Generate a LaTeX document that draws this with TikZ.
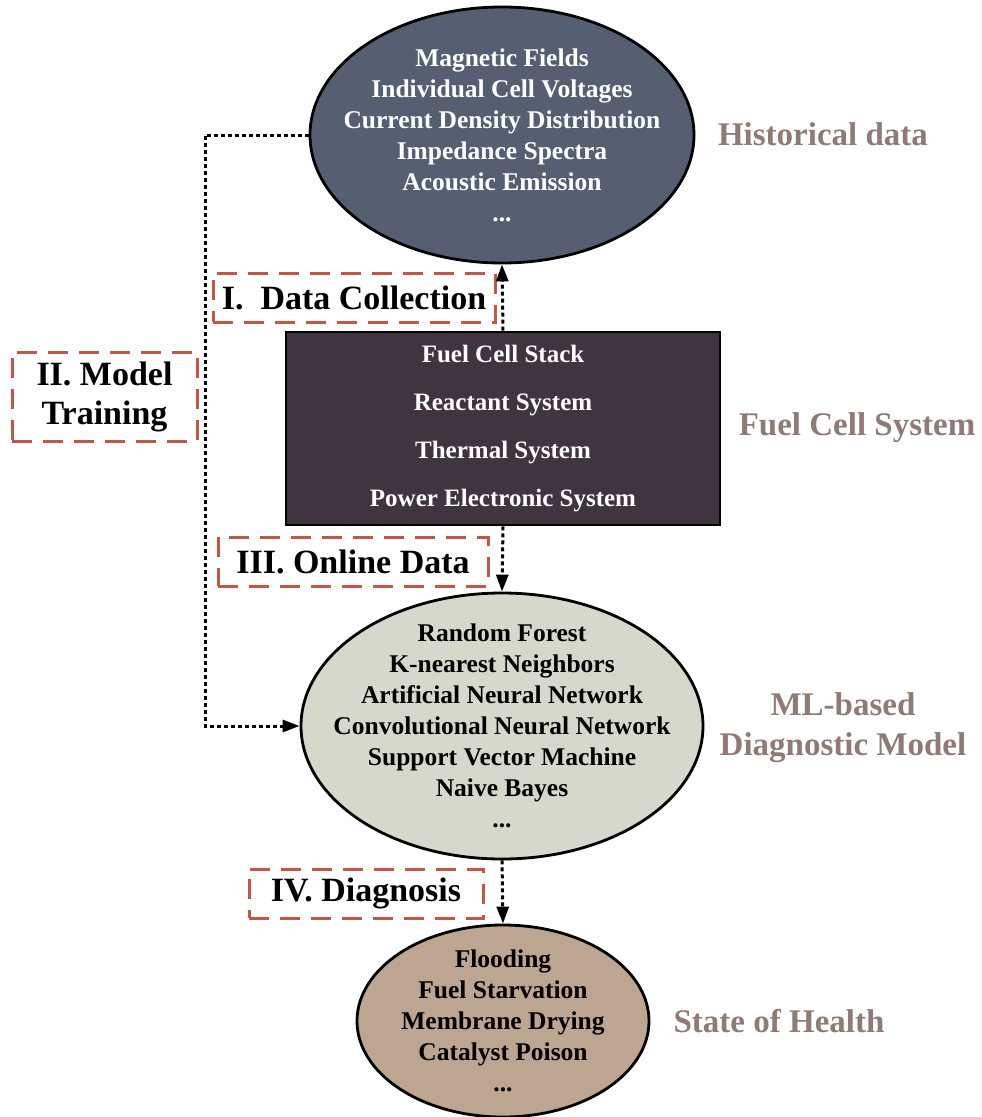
\documentclass[tikz,border=0pt]{standalone}
\usepackage{fontspec}
\setmainfont{Liberation Serif}
\usetikzlibrary{arrows.meta,shapes.geometric}
\definecolor{histfill}{HTML}{565F72}
\definecolor{boxfill}{HTML}{3F3440}
\definecolor{mlfill}{HTML}{D8D7CB}
\definecolor{sohfill}{HTML}{BCA591}
\definecolor{labcol}{HTML}{8F7A74}
\definecolor{redd}{HTML}{C0584A}
\tikzset{
  x=1pt,y=-1pt,
  bigell/.style={ellipse,draw=black,line width=2.8pt,inner sep=0pt},
  elltext/.style={align=center,inner sep=0pt,font=\bfseries\fontsize{25.5}{31}\selectfont},
  sidelab/.style={text=labcol,align=center,font=\bfseries\fontsize{33}{40}\selectfont},
  stagebox/.style={draw=redd,line width=3pt,dash pattern=on 20pt off 11pt,align=center,
    inner sep=0pt,font=\bfseries\fontsize{34}{39}\selectfont},
  conn/.style={line width=3pt,dash pattern=on 4pt off 3pt,
    -{Triangle[length=17pt,width=12pt]}},
}
\begin{document}
\begin{tikzpicture}
\useasboundingbox (0,0) rectangle (982,1117);
% Historical data ellipse
\node[bigell,fill=histfill,minimum width=384pt,minimum height=256pt] (hist) at (502,135) {};
\node[elltext,text=white] (histtxt) at (hist.center)
 {Magnetic Fields\\Individual Cell Voltages\\Current Density Distribution\\Impedance Spectra\\Acoustic Emission\\...};
% Fuel cell system box
\node[draw=black,line width=2.8pt,fill=boxfill,text=white,minimum width=434pt,minimum height=193pt,
  align=center,inner sep=0pt,font=\bfseries\fontsize{25}{48}\selectfont] (fcs) at (503,428.5)
 {Fuel Cell Stack\\Reactant System\\Thermal System\\Power Electronic System};
% ML ellipse
\node[bigell,fill=mlfill,minimum width=402pt,minimum height=266pt] (ml) at (502,726) {};
\node[elltext,text=black] (mltxt) at (ml.center)
 {Random Forest\\K-nearest Neighbors\\Artificial Neural Network\\Convolutional Neural Network\\Support Vector Machine\\Naive Bayes\\...};
% SoH ellipse
\node[bigell,fill=sohfill,minimum width=292pt,minimum height=192pt] (soh) at (503,1021) {};
\node[elltext,text=black] (sohtxt) at (soh.center)
 {Flooding\\Fuel Starvation\\Membrane Drying\\Catalyst Poison\\...};
% side labels
\node[sidelab] (lhist) at (823,134) {Historical data};
\node[sidelab] (lfcs) at (857,428) {Fuel Cell System};
\node[sidelab] (lml) at (843,728) {ML-based\\Diagnostic Model};
\node[sidelab] (lsoh) at (779,1021) {State of Health};
% stage boxes
\node[stagebox,minimum width=282pt,minimum height=49pt] (s1) at (354,297.5) {I.\ \ Data Collection};
\node[stagebox,minimum width=185pt,minimum height=89pt] (s2) at (104.5,396.5) {II. Model\\Training};
\node[stagebox,minimum width=270pt,minimum height=49pt] (s3) at (353,561.5) {III. Online Data};
\node[stagebox,minimum width=234pt,minimum height=49pt] (s4) at (366,893.5) {IV. Diagnosis};
% connectors
\coordinate (lc) at (205,430);
\draw[conn] (fcs.north) -- (hist.south);
\draw[conn] (fcs.south) -- (ml.north);
\draw[conn] (ml.south) -- (soh.north);
\draw[conn] (hist.west) -| (lc) |- (ml.west);
\end{tikzpicture}
\end{document}
